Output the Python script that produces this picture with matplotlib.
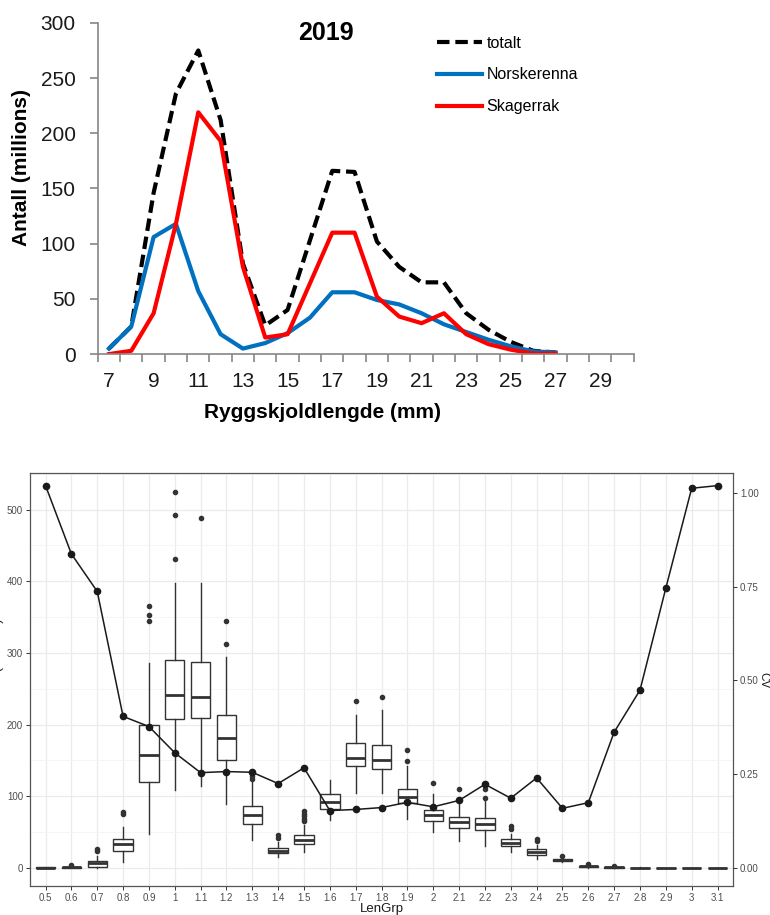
import matplotlib
matplotlib.use('Agg')
import matplotlib.pyplot as plt
import numpy as np
from matplotlib.ticker import MultipleLocator

plt.rcParams['font.family'] = ['Liberation Sans', 'DejaVu Sans']

################################################################
# data, top panel (Ryggskjoldlengde in mm, antall in millions)
axis_lengths = list(range(7, 31))
lengths = list(range(7, 28))
totalt = [5, 25, 146, 236, 275, 212, 82, 26, 40, 103, 166, 165, 102, 79, 65, 65, 37, 22, 11, 3, 1.5]
norskerenna = [5, 25, 106, 118, 57, 18, 5, 10, 19, 33, 56, 56, 49, 45, 37, 27, 20, 13, 7, 2.5, 1.5]
skagerrak = [0, 3, 37, 118, 219, 193, 79, 15, 18, 64, 110, 110, 52, 34, 28, 37, 18, 9, 4, 0.5, 0.5]

################################################################
# data, bottom panel (boxplot per LenGrp + CV line)
len_grp = ['0.5', '0.6', '0.7', '0.8', '0.9', '1', '1.1', '1.2', '1.3', '1.4', '1.5',
           '1.6', '1.7', '1.8', '1.9', '2', '2.1', '2.2', '2.3', '2.4', '2.5', '2.6',
           '2.7', '2.8', '2.9', '3', '3.1']
q1 = [0, 0.5, 2, 24, 120, 208, 209, 151, 61, 20.5, 33, 82, 142, 138, 90, 66, 56, 52.5,
      31, 18, 9.8, 1.4, 0.5, 0, 0, 0, 0]
med = [0.2, 1, 6.5, 33, 157, 242, 238, 182, 74, 24, 39, 92.5, 154, 151, 99, 74, 64.5, 62,
       35, 22.5, 11.2, 2.3, 1, 0.2, 0.1, 0.1, 0.1]
q3 = [0.8, 1.8, 10, 41, 199, 290, 288, 213, 86.5, 27.5, 45.5, 103, 174, 171, 110.5, 81,
      71.5, 70, 40, 27, 12.6, 3.3, 1.4, 0.6, 0.4, 0.4, 0.4]
whislo = [0, 0, 0, 8, 47, 109, 114, 89, 39, 16, 23, 67, 104, 105, 69, 50, 38, 30, 22,
          12.5, 8.4, 0.5, 0, 0, 0, 0, 0]
whishi = [1.5, 3, 16.5, 57, 286, 398, 397, 294, 121, 36.5, 60, 123, 213, 220, 142, 103,
          89, 97, 48, 32, 14.5, 4.5, 2, 0.8, 0.6, 0.6, 0.6]
outliers = [[], [4], [24, 27], [75, 78], [345, 353, 366], [431, 493, 524], [488],
            [313, 345], [124, 128], [42, 46], [66, 69, 72.5, 76, 80], [], [233], [238],
            [149, 165], [118], [110], [98, 110, 116], [54, 59], [38, 41], [16.7], [5],
            [2.5], [], [], [], []]
cv = [1.019, 0.837, 0.737, 0.404, 0.377, 0.307, 0.254, 0.257, 0.255, 0.225, 0.267,
      0.153, 0.156, 0.161, 0.175, 0.163, 0.180, 0.223, 0.186, 0.240, 0.159, 0.174,
      0.362, 0.474, 0.746, 1.012, 1.019]

fig = plt.figure(figsize=(7.7, 9.15), dpi=100)

################################################################
# top panel: excel style line chart
ax1 = fig.add_axes([0.127, 0.613, 0.696, 0.362])
pos = np.arange(len(lengths))
ax1.plot(pos, totalt, color='black', lw=3, dashes=(3.0, 1.4), label='totalt')
ax1.plot(pos, norskerenna, color='#0070C0', lw=3, label='Norskerenna')
ax1.plot(pos, skagerrak, color='#FF0000', lw=3, label='Skagerrak')

ax1.set_xlim(-0.5, len(axis_lengths) - 0.5)
ax1.set_ylim(0, 300)
ax1.set_yticks(range(0, 301, 50))
ax1.set_xticks(np.arange(0, len(axis_lengths), 2))
ax1.set_xticklabels([str(v) for v in axis_lengths[::2]])
ax1.set_xticks(np.arange(-0.5, len(axis_lengths)), minor=True)
ax1.tick_params(axis='x', which='major', length=0, pad=13, labelsize=15, labelcolor='#1A1A1A')
ax1.tick_params(axis='x', which='minor', length=6, color='#868686', width=1.2)
ax1.tick_params(axis='y', length=6, color='#868686', width=1.2, labelsize=15, pad=10,
                labelcolor='#1A1A1A')
for s in ['top', 'right']:
    ax1.spines[s].set_visible(False)
for s in ['left', 'bottom']:
    ax1.spines[s].set_color('#868686')
    ax1.spines[s].set_linewidth(1.2)

fig.text(326 / 770, 1 - 33 / 915, '2019', fontsize=18, fontweight='bold', ha='center', va='center')
fig.text(322 / 770, 1 - 413 / 915, 'Ryggskjoldlengde (mm)', fontsize=15, fontweight='bold',
         ha='center', va='center')
fig.text(22 / 770, 1 - 167 / 915, 'Antall (millions)', fontsize=15, fontweight='bold',
         ha='center', va='center', rotation=90)

leg = ax1.legend(loc='upper left', bbox_to_anchor=(325 / 536, 1.005), frameon=False,
                 fontsize=11.5, handlelength=2.8, handletextpad=0.3, labelspacing=1.05)

################################################################
# bottom panel: ggplot style boxplot with CV on second axis
ax2 = fig.add_axes([0.039, 0.0317, 0.913, 0.4513])
stats = []
for i in range(len(len_grp)):
    stats.append(dict(med=med[i], q1=q1[i], q3=q3[i], whislo=whislo[i],
                      whishi=whishi[i], fliers=outliers[i]))
box_col = '#333333'
ax2.bxp(stats, positions=np.arange(len(len_grp)), widths=0.75, patch_artist=True,
        boxprops=dict(facecolor='white', edgecolor=box_col, linewidth=1.0),
        medianprops=dict(color=box_col, linewidth=2.0),
        whiskerprops=dict(color=box_col, linewidth=1.0),
        capprops=dict(linewidth=0),
        flierprops=dict(marker='o', markersize=3, markerfacecolor=box_col,
                        markeredgecolor=box_col))

ax2.set_xlim(-0.6, len(len_grp) - 0.4)
ax2.set_ylim(-25.1, 551)
ax2.set_xticks(np.arange(len(len_grp)))
ax2.set_xticklabels(len_grp)
ax2.set_yticks(range(0, 501, 100))
ax2.yaxis.set_minor_locator(MultipleLocator(50))
ax2.set_yticks(range(50, 551, 100), minor=True)
ax2.grid(which='major', color='#EBEBEB', lw=0.9)
ax2.grid(which='minor', axis='y', color='#F4F4F4', lw=0.6)
ax2.set_axisbelow(True)
ax2.tick_params(which='major', labelsize=7, labelcolor='#4D4D4D', color='#333333',
                length=3, width=0.7, pad=2)
ax2.tick_params(which='minor', length=0)
for s in ax2.spines.values():
    s.set_color('#555555')
    s.set_linewidth(0.9)

ax3 = ax2.twinx()
ax3.plot(np.arange(len(len_grp)), cv, color='#1A1A1A', lw=1.1, marker='o', markersize=4.5)
ax3.set_ylim(-0.048, 1.0525)
ax3.set_yticks([0, 0.25, 0.5, 0.75, 1.0])
ax3.set_yticklabels(['0.00', '0.25', '0.50', '0.75', '1.00'])
ax3.tick_params(labelsize=7, labelcolor='#4D4D4D', color='#333333', length=3, width=0.7, pad=2)
for s in ax3.spines.values():
    s.set_visible(False)

fig.text(382 / 770, 1 - 909 / 915, 'LenGrp', fontsize=9.5, color='#1A1A1A', ha='center', va='center')
fig.text(769 / 770, 1 - 680 / 915, 'CV', fontsize=8.5, color='#1A1A1A', ha='right', va='center',
         rotation=-90)
fig.text(4 / 770, 1 - 680 / 915, 'Abundance (millions)', fontsize=9.5, color='#1A1A1A',
         ha='right', va='center', rotation=90)

plt.savefig('out.png', dpi=100)
